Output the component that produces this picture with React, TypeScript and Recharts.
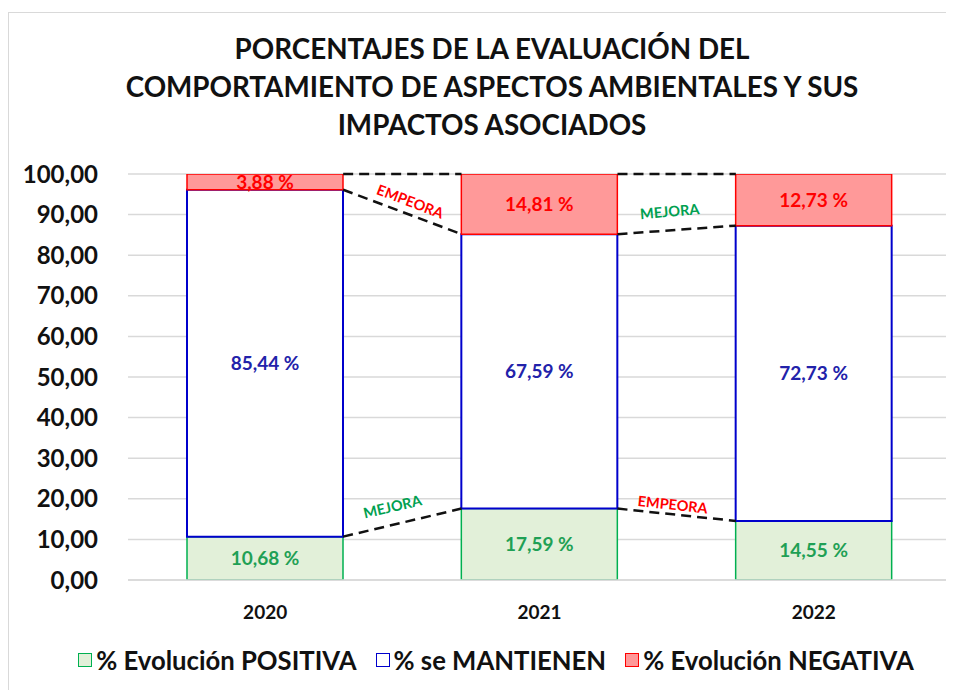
import React from 'react';
import {
  ComposedChart,
  Bar,
  XAxis,
  YAxis,
  CartesianGrid,
  Legend,
  LabelList,
  ReferenceDot,
  ReferenceLine,
} from 'recharts';

const years = ['2020', '2021', '2022'];
const positiva = [10.68, 17.59, 14.55];
const mantienen = [85.44, 67.59, 72.73];
const negativa = [3.88, 14.81, 12.73];
const yTicks = [0, 10, 20, 30, 40, 50, 60, 70, 80, 90, 100];

const titleLines = [
  'PORCENTAJES DE LA EVALUACIÓN DEL',
  'COMPORTAMIENTO DE ASPECTOS AMBIENTALES Y SUS',
  'IMPACTOS ASOCIADOS',
];

// annotations between bars (x in category units, 0..3)
const notes = [
  { text: 'EMPEORA', color: '#ff0000', x: 1.027, y: 92.9, angle: 21 },
  { text: 'MEJORA', color: '#00a050', x: 1.975, y: 90.4, angle: -5 },
  { text: 'MEJORA', color: '#00a050', x: 0.965, y: 17.7, angle: -13 },
  { text: 'EMPEORA', color: '#ff0000', x: 1.985, y: 18.2, angle: 6 },
];

const legendItems = [
  { label: '% Evolución POSITIVA', fill: '#e2f0d9', stroke: '#00b050' },
  { label: '% se MANTIENEN', fill: '#ffffff', stroke: '#0000cc' },
  { label: '% Evolución NEGATIVA', fill: '#ff9999', stroke: '#ff0000' },
];

const FONT = 'Lato, "Open Sans", sans-serif';
const BAR_PX = 156;
const HALF = 0.2843; // half bar width in category units

const data = years.map((year, i) => ({
  x: i + 0.5,
  year,
  positiva: positiva[i],
  mantienen: mantienen[i],
  negativa: negativa[i],
}));

// dashed connectors from the right edge of one bar to the left edge of the next
const levels = years.map((_, i) => [
  positiva[i],
  positiva[i] + mantienen[i],
  positiva[i] + mantienen[i] + negativa[i],
]);
const links: Array<Array<{ x: number; y: number }>> = [];
for (let i = 0; i < years.length - 1; i++) {
  for (let k = 0; k < 3; k++) {
    links.push([
      { x: i + 0.5 + HALF, y: Math.min(levels[i][k], 100) },
      { x: i + 1.5 - HALF, y: Math.min(levels[i + 1][k], 100) },
    ]);
  }
}

const fmt = (v: number) => `${v.toFixed(2).replace('.', ',')} %`;

const NoteShape = (note: (typeof notes)[number]) => (props: any) => (
  <text
    x={props.cx}
    y={props.cy}
    transform={`rotate(${note.angle} ${props.cx} ${props.cy})`}
    textAnchor="middle"
    dominantBaseline="middle"
    fill={note.color}
    fontFamily={FONT}
    fontWeight={700}
    fontSize={14.5}
  >
    {note.text}
  </text>
);

const LegendContent = () => (
  <div
    style={{
      display: 'flex',
      justifyContent: 'center',
      alignItems: 'center',
      height: 30,
      gap: 19,
      paddingLeft: 28,
      fontFamily: FONT,
      fontWeight: 700,
      fontSize: 25.7,
      color: '#111',
    }}
  >
    {legendItems.map((it) => (
      <div key={it.label} style={{ display: 'flex', alignItems: 'center', gap: 4 }}>
        <span
          style={{
            width: 12,
            height: 12,
            background: it.fill,
            border: `1.5px solid ${it.stroke}`,
            display: 'inline-block',
          }}
        />
        <span>{it.label}</span>
      </div>
    ))}
  </div>
);

const labelStyle = { fontFamily: FONT, fontWeight: 700, fontSize: 19 };

export default function App() {
  return (
    <div
      style={{
        position: 'relative',
        marginTop: 4,
        width: 946,
        height: 678,
        border: '1px solid #d9d9d9',
        background: '#fff',
      }}
    >
      <div
        style={{
          position: 'absolute',
          top: 17,
          left: 10,
          width: 946,
          textAlign: 'center',
          fontFamily: FONT,
          fontWeight: 700,
          fontSize: 27.8,
          lineHeight: '38px',
          color: '#111',
        }}
      >
        {titleLines.map((t) => (
          <div key={t}>{t}</div>
        ))}
      </div>
      <ComposedChart
        width={946}
        height={678}
        data={data}
        margin={{ top: 161, right: 4, bottom: 41, left: 0 }}
      >
        <CartesianGrid vertical={false} stroke="#d9d9d9" strokeWidth={1.5} />
        <XAxis
          dataKey="x"
          type="number"
          domain={[0, 3]}
          ticks={data.map((d) => d.x)}
          tickFormatter={(v: number) => years[Math.floor(v)]}
          allowDataOverflow
          tickLine={false}
          axisLine={{ stroke: '#d9d9d9', strokeWidth: 1.5 }}
          tickMargin={20}
          height={40}
          tick={{ fill: '#111', fontFamily: FONT, fontWeight: 700, fontSize: 19 }}
        />
        <YAxis
          width={119}
          domain={[0, 100]}
          ticks={yTicks}
          interval={0}
          allowDataOverflow
          axisLine={false}
          tickLine={false}
          tickMargin={24}
          tickFormatter={(v: number) => v.toFixed(2).replace('.', ',')}
          tick={{ fill: '#111', fontFamily: FONT, fontWeight: 700, fontSize: 24 }}
        />
        <Bar
          dataKey="positiva"
          stackId="a"
          barSize={BAR_PX}
          fill="#e2f0d9"
          stroke="#00b050"
          strokeWidth={1.5}
          isAnimationActive={false}
        >
          <LabelList dataKey="positiva" position="center" formatter={fmt} fill="#1fa055" {...labelStyle} />
        </Bar>
        <Bar
          dataKey="mantienen"
          stackId="a"
          barSize={BAR_PX}
          fill="#ffffff"
          stroke="#0000cc"
          strokeWidth={2}
          isAnimationActive={false}
        >
          <LabelList dataKey="mantienen" position="center" formatter={fmt} fill="#2222aa" {...labelStyle} />
        </Bar>
        <Bar
          dataKey="negativa"
          stackId="a"
          barSize={BAR_PX}
          fill="#ff9999"
          stroke="#ff0000"
          strokeWidth={1.5}
          isAnimationActive={false}
        >
          <LabelList dataKey="negativa" position="center" formatter={fmt} fill="#ff0000" {...labelStyle} />
        </Bar>
        {links.map((seg, i) => (
          <ReferenceLine
            key={i}
            segment={seg}
            stroke="#111"
            strokeWidth={2.5}
            strokeDasharray="10 6"
            ifOverflow="visible"
          />
        ))}
        {notes.map((n, i) => (
          <ReferenceDot
            key={i}
            x={n.x}
            y={n.y}
            r={1}
            ifOverflow="visible"
            shape={NoteShape(n)}
          />
        ))}
        <Legend
          content={LegendContent}
          verticalAlign="bottom"
          wrapperStyle={{ bottom: 16, left: 0, width: 946, height: 30 }}
        />
      </ComposedChart>
    </div>
  );
}
